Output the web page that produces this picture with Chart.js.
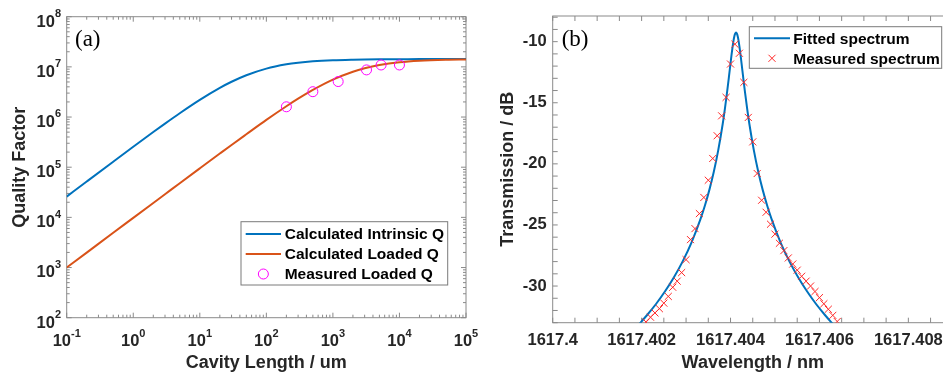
<!DOCTYPE html>
<html>
<head>
<meta charset="utf-8">
<title>Quality factor and spectrum</title>
<script src="https://cdn.jsdelivr.net/npm/chart.js@4.4.0/dist/chart.umd.min.js"></script>
<style>
  html, body { margin: 0; padding: 0; background: #fff; overflow: hidden; }
  #wrap { position: relative; width: 943px; height: 374px; overflow: hidden; }
  #qChart { position: absolute; left: 0; top: 0; }
  #specChart { position: absolute; left: 480px; top: 0; }
</style>
</head>
<body>
<div id="wrap">
  <canvas id="qChart" width="490" height="374"></canvas>
  <canvas id="specChart" width="500" height="374"></canvas>
</div>
<script>
// ---- (a) quality factor vs cavity length (um)
const cavityLength = [0.1, 0.2, 0.5, 1, 2, 3, 5, 10, 20, 30, 50, 100, 200, 300, 500, 1000, 2000, 3000, 5000, 10000, 20000, 50000, 100000];
const intrinsicQ = [2.595e4, 5.18e4, 1.288e5, 2.554e5, 5.017e5, 7.4e5, 1.192e6, 2.2e6, 3.814e6, 5.05e6, 6.81e6, 9.23e6, 1.122e7, 1.209e7, 1.289e7, 1.356e7, 1.392e7, 1.405e7, 1.415e7, 1.425e7, 1.427e7, 1.429e7, 1.43e7];
const loadedQ = [1000, 1986, 4921, 9765, 19380, 28940, 48000, 94900, 187200, 277800, 453000, 876000, 1.64e6, 2.318e6, 3.47e6, 5.57e6, 7.99e6, 9.36e6, 1.085e7, 1.233e7, 1.323e7, 1.385e7, 1.407e7];
const measuredLength = [200, 500, 1200, 3200, 5300, 10000];
const measuredQ = [1.6e6, 3.2e6, 5.1e6, 8.7e6, 1.09e7, 1.09e7];
const lengthTicks = [0.1, 1, 10, 100, 1000, 10000, 100000];
const qTicks = [1e2, 1e3, 1e4, 1e5, 1e6, 1e7, 1e8];

// ---- (b) transmission spectrum
const fitWavelength = [
  1617.401924, 1617.402124, 1617.402324, 1617.402524, 1617.402724, 1617.402924, 1617.403124, 1617.403324,
  1617.403424, 1617.403524, 1617.403624, 1617.403724, 1617.403824, 1617.403874, 1617.403924, 1617.403964,
  1617.403994, 1617.404024, 1617.404044, 1617.404064, 1617.404084, 1617.404104, 1617.404124, 1617.404144,
  1617.404164, 1617.404184, 1617.404204, 1617.404224, 1617.404254, 1617.404284, 1617.404324, 1617.404374,
  1617.404424, 1617.404524, 1617.404624, 1617.404724, 1617.404824, 1617.404924, 1617.405124, 1617.405324,
  1617.405524, 1617.405724, 1617.405924, 1617.406124, 1617.406324
];
const fitTransmission = [
  -33.20, -32.37, -31.47, -30.45, -29.30, -27.98, -26.42, -24.53,
  -23.41, -22.13, -20.65, -18.88, -16.74, -15.48, -14.09, -12.89,
  -11.96, -11.05, -10.49, -9.99, -9.60, -9.35, -9.26, -9.35,
  -9.60, -9.99, -10.49, -11.05, -11.96, -12.89, -14.09, -15.48,
  -16.74, -18.88, -20.65, -22.13, -23.41, -24.53, -26.42, -27.98,
  -29.30, -30.45, -31.47, -32.37, -33.20
];
const measWavelength = [
  1617.4021, 1617.4022, 1617.4023, 1617.4024, 1617.4025, 1617.4026, 1617.4027, 1617.4028, 1617.4029, 1617.4030,
  1617.4031, 1617.4032, 1617.4033, 1617.4034, 1617.4035, 1617.4036, 1617.4037, 1617.4038, 1617.4039, 1617.4040,
  1617.4041, 1617.4042, 1617.4043, 1617.4044, 1617.4045, 1617.4046, 1617.4047, 1617.4048, 1617.4049, 1617.4050,
  1617.4051, 1617.4052, 1617.4053, 1617.4054, 1617.4055, 1617.4056, 1617.4057, 1617.4058, 1617.4059, 1617.4060,
  1617.4061, 1617.4062, 1617.4063, 1617.4064
];
const measTransmission = [
  -32.95, -32.55, -32.2, -31.85, -31.4, -30.85, -30.1, -29.6, -28.9, -27.84,
  -26.2, -25.3, -24.07, -22.75, -21.34, -19.56, -17.7, -16.07, -14.56, -11.83,
  -10.21, -10.95, -13.33, -16.2, -18.2, -20.79, -22.98, -23.96, -24.94, -25.75,
  -26.5, -27.1, -27.7, -28.2, -28.7, -29.2, -29.6, -30.0, -30.45, -30.95,
  -31.45, -31.9, -32.4, -32.9
];
const wavelengthTicks = [1617.400, 1617.402, 1617.404, 1617.406, 1617.408];
const transmissionTicks = [-30, -25, -20, -15, -10];

const SANS = '"Liberation Sans", Arial, sans-serif';
const INK = '#262626';
const toPoints = (xs, ys) => xs.map((x, i) => ({ x, y: ys[i] }));

// force exact plot box, no automatic label padding
const fixSize = (prop, size) => scale => {
  scale[prop] = size;
  scale.paddingLeft = scale.paddingRight = scale.paddingTop = scale.paddingBottom = 0;
};

function markValues(scale, spec) {
  const out = [];
  if (spec.log) {
    const k0 = Math.floor(Math.log10(scale.min)), k1 = Math.ceil(Math.log10(scale.max));
    for (let k = k0; k <= k1; k++) {
      for (let m = 1; m <= 9; m++) {
        const v = m * Math.pow(10, k);
        if (v >= scale.min * 0.999 && v <= scale.max * 1.001) out.push({ v, major: m === 1 });
      }
    }
  } else {
    const n0 = Math.ceil(scale.min / spec.step - 1e-6), n1 = Math.floor(scale.max / spec.step + 1e-6);
    for (let n = n0; n <= n1; n++) out.push({ v: n * spec.step, major: true });
  }
  return out;
}

function drawMarker(ctx, ds, x, y) {
  const r = ds.pointRadius;
  ctx.strokeStyle = ds.borderColor;
  ctx.lineWidth = ds.borderWidth;
  ctx.beginPath();
  if (ds.pointStyle === 'crossRot') {
    const d = r * Math.SQRT1_2;
    ctx.moveTo(x - d, y - d); ctx.lineTo(x + d, y + d);
    ctx.moveTo(x - d, y + d); ctx.lineTo(x + d, y - d);
  } else {
    ctx.arc(x, y, r, 0, Math.PI * 2);
  }
  ctx.stroke();
}

// "10" with a raised exponent, like the MATLAB log tick labels
function drawPow10(ctx, value, x, y, align) {
  const big = 'bold 16.5px ' + SANS, small = 'bold 11px ' + SANS;
  const exp = String(Math.round(Math.log10(value)));
  ctx.font = big;
  const w1 = ctx.measureText('10').width;
  ctx.font = small;
  const w2 = ctx.measureText(exp).width;
  const left = align === 'right' ? x - w1 - w2 : x - (w1 + w2) / 2;
  ctx.textAlign = 'left';
  ctx.textBaseline = 'alphabetic';
  ctx.font = big;
  ctx.fillText('10', left, y);
  ctx.font = small;
  ctx.fillText(exp, left + w1, y - 9.5);
}

// MATLAB-like box with inward ticks, inset legend and panel letter
const framePlugin = {
  id: 'frame',
  beforeDatasetsDraw(chart, args, opts) {
    const { ctx, chartArea: a, scales: { x, y } } = chart;
    ctx.save();
    ctx.strokeStyle = '#8a8a8a';
    ctx.lineWidth = 1;
    ctx.strokeRect(a.left, a.top, a.right - a.left, a.bottom - a.top);
    ctx.beginPath();
    markValues(x, opts.xMarks).forEach(t => {
      const px = x.getPixelForValue(t.v), len = t.major ? opts.majorLen : opts.minorLen;
      ctx.moveTo(px, a.bottom); ctx.lineTo(px, a.bottom - len);
      ctx.moveTo(px, a.top); ctx.lineTo(px, a.top + len);
    });
    markValues(y, opts.yMarks).forEach(t => {
      const py = y.getPixelForValue(t.v), len = t.major ? opts.majorLen : opts.minorLen;
      ctx.moveTo(a.left, py); ctx.lineTo(a.left + len, py);
      ctx.moveTo(a.right, py); ctx.lineTo(a.right - len, py);
    });
    ctx.stroke();

    if (opts.powLabels) {
      ctx.fillStyle = INK;
      x.ticks.forEach(t => drawPow10(ctx, t.value, x.getPixelForValue(t.value), a.bottom + 28.3, 'center'));
      y.ticks.forEach(t => drawPow10(ctx, t.value, a.left - 5.7, y.getPixelForValue(t.value) + 9.8, 'right'));
    }
    ctx.restore();
  },
  afterDraw(chart, args, o) {
    const ctx = chart.ctx;
    ctx.save();
    ctx.fillStyle = '#fff';
    ctx.fillRect(o.lx, o.ly, o.lw, o.lh);
    ctx.strokeStyle = '#7a7a7a';
    ctx.lineWidth = 1;
    ctx.strokeRect(o.lx, o.ly, o.lw, o.lh);
    ctx.font = 'bold 15.5px ' + SANS;
    ctx.textAlign = 'left';
    ctx.textBaseline = 'middle';
    chart.data.datasets.forEach((ds, i) => {
      const yy = o.row0 + i * o.rowGap;
      if (ds.showLine === false) {
        drawMarker(ctx, ds, (o.sx0 + o.sx1) / 2, yy);
      } else {
        ctx.strokeStyle = ds.borderColor;
        ctx.lineWidth = ds.borderWidth;
        ctx.beginPath(); ctx.moveTo(o.sx0, yy); ctx.lineTo(o.sx1, yy); ctx.stroke();
      }
      ctx.fillStyle = '#000';
      ctx.fillText(ds.label, o.tx, yy + 1);
    });
    ctx.font = '23px "Liberation Serif", "Times New Roman", serif';
    ctx.fillStyle = '#000';
    ctx.fillText(o.panel, o.px, o.py);
    ctx.restore();
  }
};

const tickFont = { family: SANS, size: 16.5, weight: 'bold' };
const titleFont = { family: SANS, size: 18, weight: 'bold' };
const noGrid = { display: false, drawTicks: false };

new Chart(document.getElementById('qChart'), {
  type: 'line',
  data: {
    datasets: [
      { label: 'Calculated Intrinsic Q', data: toPoints(cavityLength, intrinsicQ), borderColor: '#0072BD',
        borderWidth: 2, pointRadius: 0, cubicInterpolationMode: 'monotone', order: 2 },
      { label: 'Calculated Loaded Q', data: toPoints(cavityLength, loadedQ), borderColor: '#D95319',
        borderWidth: 2, pointRadius: 0, cubicInterpolationMode: 'monotone', order: 1 },
      { label: 'Measured Loaded Q', data: toPoints(measuredLength, measuredQ), showLine: false, order: 0,
        pointStyle: 'circle', pointRadius: 5, borderWidth: 1, borderColor: '#FF00FF', backgroundColor: 'rgba(0,0,0,0)' }
    ]
  },
  options: {
    responsive: false,
    animation: false,
    layout: { padding: { left: 0, top: 16.7, right: 24, bottom: 0 } },
    plugins: {
      legend: { display: false },
      tooltip: { enabled: false },
      frame: {
        xMarks: { log: true }, yMarks: { log: true }, majorLen: 5, minorLen: 3, powLabels: true,
        lx: 241, ly: 221.7, lw: 206.7, lh: 63.3, row0: 234, rowGap: 20, sx0: 245.7, sx1: 281, tx: 284.7,
        panel: '(a)', px: 75, py: 40
      }
    },
    scales: {
      x: {
        type: 'logarithmic', min: 0.1, max: 1e5,
        grid: noGrid, border: { display: false },
        afterBuildTicks: s => { s.ticks = lengthTicks.map(v => ({ value: v })); },
        afterFit: fixSize('height', 56.3),
        ticks: { display: false },
        title: { display: true, text: 'Cavity Length / um', font: titleFont, color: INK, padding: { top: 0, bottom: 0 } }
      },
      y: {
        type: 'logarithmic', min: 1e2, max: 1e8,
        grid: noGrid, border: { display: false },
        afterBuildTicks: s => { s.ticks = qTicks.map(v => ({ value: v })); },
        afterFit: fixSize('width', 66.7),
        ticks: { display: false },
        title: { display: true, text: 'Quality Factor', font: titleFont, color: INK, padding: { top: 9.7, bottom: 0 } }
      }
    }
  },
  plugins: [framePlugin]
});

new Chart(document.getElementById('specChart'), {
  type: 'line',
  data: {
    datasets: [
      { label: 'Fitted spectrum', data: toPoints(fitWavelength, fitTransmission), borderColor: '#0072BD',
        borderWidth: 2, pointRadius: 0, cubicInterpolationMode: 'monotone', order: 1 },
      { label: 'Measured spectrum', data: toPoints(measWavelength, measTransmission), showLine: false, order: 0,
        pointStyle: 'crossRot', pointRadius: 5, borderWidth: 1, borderColor: 'rgb(255,40,40)' }
    ]
  },
  options: {
    responsive: false,
    animation: false,
    layout: { padding: { left: 0, top: 16, right: 27.2, bottom: 0 } },
    plugins: {
      legend: { display: false },
      tooltip: { enabled: false },
      frame: {
        xMarks: { step: 0.0005 }, yMarks: { step: 1 }, majorLen: 5, minorLen: 5, powLabels: false,
        lx: 269.3, ly: 26.7, lw: 192.4, lh: 41.6, row0: 38.3, rowGap: 20, sx0: 274, sx1: 310, tx: 313.3,
        panel: '(b)', px: 81.7, py: 40
      }
    },
    scales: {
      x: {
        type: 'linear', min: 1617.4, max: 1617.409,
        grid: noGrid, border: { display: false },
        afterBuildTicks: s => { s.ticks = wavelengthTicks.map(v => ({ value: v })); },
        afterFit: fixSize('height', 51.3),
        ticks: { callback: v => String(parseFloat(v.toFixed(3))), font: tickFont, color: INK, padding: 8, maxRotation: 0, minRotation: 0, autoSkip: false },
        title: { display: true, text: 'Wavelength / nm', font: titleFont, color: INK, padding: { top: 0, bottom: 0 } }
      },
      y: {
        type: 'linear', min: -33, max: -7.9,
        grid: noGrid, border: { display: false },
        afterBuildTicks: s => { s.ticks = transmissionTicks.map(v => ({ value: v })); },
        afterFit: fixSize('width', 72.7),
        ticks: { callback: v => String(v), font: tickFont, color: INK, padding: 6, autoSkip: false },
        title: { display: true, text: 'Transmission / dB', font: titleFont, color: INK, padding: { top: 17, bottom: 0 } }
      }
    }
  },
  plugins: [framePlugin]
});
</script>
</body>
</html>
